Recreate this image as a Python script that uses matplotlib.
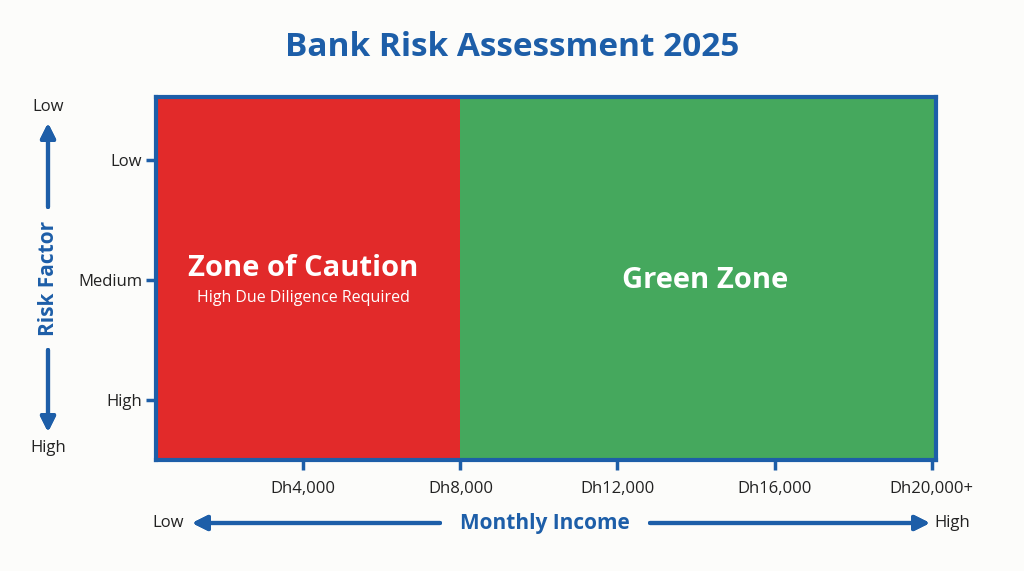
import matplotlib.pyplot as plt
from matplotlib.patches import Rectangle

plt.rcParams['font.family'] = ['Open Sans', 'DejaVu Sans']

# zones: (start, end) on income axis
zone_names = ['Zone of Caution', 'Green Zone']
zone_start = [0, 8000]
zone_end = [8000, 20200]
zone_colors = ['#e22a2a', '#45a85d']

income_ticks = [4000, 8000, 12000, 16000, 20000]
income_labels = ['Dh4,000', 'Dh8,000', 'Dh12,000', 'Dh16,000', 'Dh20,000+']
risk_ticks = [2.5, 1.5, 0.5]
risk_labels = ['Low', 'Medium', 'High']

blue = '#1d5ea8'
W, H = 1024, 571

fig = plt.figure(figsize=(W / 100, H / 100), dpi=100, facecolor='#fcfcfa')
ax = fig.add_axes([156 / W, 1 - 460 / H, (936 - 156) / W, (460 - 97) / H])

for s, e, c in zip(zone_start, zone_end, zone_colors):
    ax.add_patch(Rectangle((s, 0), e - s, 3.03, facecolor=c, edgecolor='none'))

ax.set_xlim(250, 20110)
ax.set_ylim(0, 3.03)
ax.set_xticks(income_ticks)
ax.set_xticklabels(income_labels)
ax.set_yticks(risk_ticks)
ax.set_yticklabels(risk_labels)
for sp in ax.spines.values():
    sp.set_color(blue)
    sp.set_linewidth(3)
ax.tick_params(axis='both', colors=blue, width=2.5, length=7, labelsize=12,
               labelcolor='#222222')
ax.tick_params(axis='x', pad=8)
ax.tick_params(axis='y', pad=3)

# zone labels
ax.text(4000, 1.6, 'Zone of Caution', color='white', fontsize=21,
        fontweight='bold', ha='center', va='center')
ax.text(4000, 1.35, 'High Due Diligence Required', color='white',
        fontsize=11.5, ha='center', va='center')
ax.text(14230, 1.5, 'Green Zone', color='white', fontsize=21,
        fontweight='bold', ha='center', va='center')

fig.text(0.5, 1 - 48 / H, 'Bank Risk Assessment 2025', color=blue,
         fontsize=24, fontweight='bold', ha='center', va='center')


def fx(px):
    return px / W


def fy(py):
    return 1 - py / H


arrow = dict(arrowstyle='-|>', color=blue, lw=3, mutation_scale=22,
             shrinkA=0, shrinkB=0)

# y-axis descriptor
fig.text(fx(48), fy(278), 'Risk Factor', color=blue, fontsize=15,
         fontweight='bold', rotation=90, ha='center', va='center')
fig.text(fx(48), fy(107), 'Low', color='#222222', fontsize=12,
         ha='center', va='center')
fig.text(fx(48), fy(448), 'High', color='#222222', fontsize=12,
         ha='center', va='center')
fig.add_artist(plt.annotate('', xy=(fx(48), fy(123)), xytext=(fx(48), fy(207)),
                            xycoords='figure fraction', arrowprops=arrow))
fig.add_artist(plt.annotate('', xy=(fx(48), fy(432)), xytext=(fx(48), fy(350)),
                            xycoords='figure fraction', arrowprops=arrow))

# x-axis descriptor
fig.text(fx(545), fy(523), 'Monthly Income', color=blue, fontsize=15,
         fontweight='bold', ha='center', va='center')
fig.text(fx(168), fy(523), 'Low', color='#222222', fontsize=12,
         ha='center', va='center')
fig.text(fx(952), fy(523), 'High', color='#222222', fontsize=12,
         ha='center', va='center')
fig.add_artist(plt.annotate('', xy=(fx(192), fy(523)), xytext=(fx(440), fy(523)),
                            xycoords='figure fraction', arrowprops=arrow))
fig.add_artist(plt.annotate('', xy=(fx(930), fy(523)), xytext=(fx(650), fy(523)),
                            xycoords='figure fraction', arrowprops=arrow))

fig.savefig('out.png', dpi=100, facecolor=fig.get_facecolor())
